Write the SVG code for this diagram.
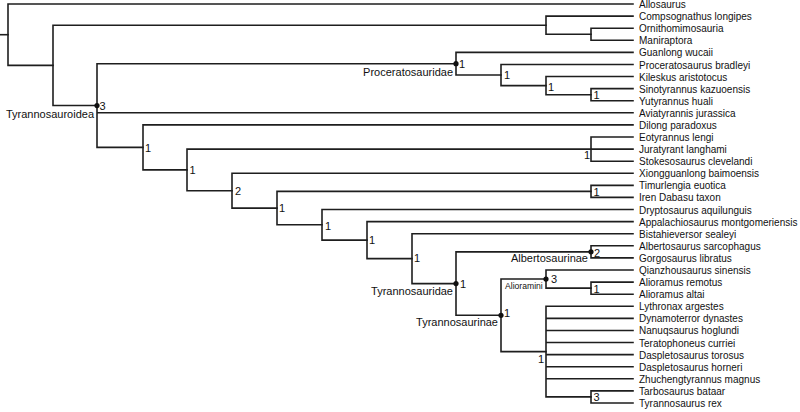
<svg xmlns="http://www.w3.org/2000/svg" width="800" height="412" viewBox="0 0 800 412">
<style>
.e{fill:none;stroke:#1e1e1e;stroke-width:1.6;stroke-linecap:square}
.t{font-family:"Liberation Sans",Arial,sans-serif;font-size:10px;fill:#111}
.c{font-family:"Liberation Sans",Arial,sans-serif;font-size:11px;fill:#111}
.s{font-family:"Liberation Sans",Arial,sans-serif;font-size:11px;fill:#111}
.a{font-family:"Liberation Sans",Arial,sans-serif;font-size:8.6px;fill:#111}
.d{fill:#111}
</style>
<rect width="800" height="412" fill="#fff"/>
<g id="connectors" class="e">
<path d="M0,34.7 H8"/>
<path d="M633,4 H8 V65.4 H53"/>
<path d="M546,25.2 H53 V105.55 H97"/>
<path d="M633,16.1 H546 V34.2 H591"/>
<path d="M633,28.2 H591 V40.3 H633"/>
<path d="M456,63.7 H97 V147.4 H143 M97,112.8 H633"/>
<path d="M633,52.4 H456 V75 H501"/>
<path d="M633,64.5 H501 V85.6 H546"/>
<path d="M633,76.5 H546 V94.7 H591"/>
<path d="M633,88.6 H591 V100.7 H633"/>
<path d="M633,124.9 H143 V169.9 H187"/>
<path d="M591,149.1 H187 V190.7 H232"/>
<path d="M633,137 H591 V161.2 H633 M591,149.1 H633"/>
<path d="M633,173.3 H232 V208.1 H277"/>
<path d="M591,191.4 H277 V224.8 H322"/>
<path d="M633,185.35 H591 V197.4 H633"/>
<path d="M633,209.5 H322 V240.1 H367"/>
<path d="M633,221.6 H367 V258.65 H412"/>
<path d="M633,233.7 H412 V283.6 H456"/>
<path d="M591,251.85 H456 V315.3 H501"/>
<path d="M633,245.8 H591 V257.9 H633"/>
<path d="M546,279.05 H501 V351.6 H546"/>
<path d="M633,270 H546 V288.1 H591"/>
<path d="M633,282.1 H591 V294.2 H633"/>
<path d="M633,306.25 H546 V396.9 H591 M546,318.34 H633 M546,330.43 H633 M546,342.52 H633 M546,354.61 H633 M546,366.7 H633 M546,378.79 H633"/>
<path d="M633,390.9 H591 V403 H633"/>
</g>
<g id="leaves" class="t">
<g id="leaf01"><text x="639" y="8">Allosaurus</text></g>
<g id="leaf02"><text x="639" y="20.1">Compsognathus longipes</text></g>
<g id="leaf03"><text x="639" y="32.2">Ornithomimosauria</text></g>
<g id="leaf04"><text x="639" y="44.3">Maniraptora</text></g>
<g id="leaf05"><text x="639" y="56.4">Guanlong wucaii</text></g>
<g id="leaf06"><text x="639" y="68.5">Proceratosaurus bradleyi</text></g>
<g id="leaf07"><text x="639" y="80.5">Kileskus aristotocus</text></g>
<g id="leaf08"><text x="639" y="92.6">Sinotyrannus kazuoensis</text></g>
<g id="leaf09"><text x="639" y="104.7">Yutyrannus huali</text></g>
<g id="leaf10"><text x="639" y="116.8">Aviatyrannis jurassica</text></g>
<g id="leaf11"><text x="639" y="128.9">Dilong paradoxus</text></g>
<g id="leaf12"><text x="639" y="141">Eotyrannus lengi</text></g>
<g id="leaf13"><text x="639" y="153.1">Juratyrant langhami</text></g>
<g id="leaf14"><text x="639" y="165.2">Stokesosaurus clevelandi</text></g>
<g id="leaf15"><text x="639" y="177.3">Xiongguanlong baimoensis</text></g>
<g id="leaf16"><text x="639" y="189.4">Timurlengia euotica</text></g>
<g id="leaf17"><text x="639" y="201.4">Iren Dabasu taxon</text></g>
<g id="leaf18"><text x="639" y="213.5">Dryptosaurus aquilunguis</text></g>
<g id="leaf19"><text x="639" y="225.6">Appalachiosaurus montgomeriensis</text></g>
<g id="leaf20"><text x="639" y="237.7">Bistahieversor sealeyi</text></g>
<g id="leaf21"><text x="639" y="249.8">Albertosaurus sarcophagus</text></g>
<g id="leaf22"><text x="639" y="261.9">Gorgosaurus libratus</text></g>
<g id="leaf23"><text x="639" y="274">Qianzhousaurus sinensis</text></g>
<g id="leaf24"><text x="639" y="286.1">Alioramus remotus</text></g>
<g id="leaf25"><text x="639" y="298.2">Alioramus altai</text></g>
<g id="leaf26"><text x="639" y="310.3">Lythronax argestes</text></g>
<g id="leaf27"><text x="639" y="322.3">Dynamoterror dynastes</text></g>
<g id="leaf28"><text x="639" y="334.4">Nanuqsaurus hoglundi</text></g>
<g id="leaf29"><text x="639" y="346.5">Teratophoneus curriei</text></g>
<g id="leaf30"><text x="639" y="358.6">Daspletosaurus torosus</text></g>
<g id="leaf31"><text x="639" y="370.7">Daspletosaurus horneri</text></g>
<g id="leaf32"><text x="639" y="382.8">Zhuchengtyrannus magnus</text></g>
<g id="leaf33"><text x="639" y="394.9">Tarbosaurus bataar</text></g>
<g id="leaf34"><text x="639" y="407">Tyrannosaurus rex</text></g>
</g>
<g id="node-tyrannosauroidea"><circle class="d" cx="97" cy="105.55" r="2.6"/><text class="s" x="99.5" y="109.5">3</text><text class="c" x="94" y="118" text-anchor="end">Tyrannosauroidea</text></g>
<g id="node-proceratosauridae"><circle class="d" cx="456" cy="63.7" r="2.6"/><text class="s" x="459" y="67.7">1</text><text class="c" x="453" y="76" text-anchor="end">Proceratosauridae</text></g>
<g id="node-p2"><text class="s" x="504" y="79">1</text></g>
<g id="node-p3"><text class="s" x="548" y="91">1</text></g>
<g id="node-p4"><text class="s" x="593.5" y="99">1</text></g>
<g id="node-u"><text class="s" x="145" y="151.5">1</text></g>
<g id="node-v"><text class="s" x="189.5" y="174">1</text></g>
<g id="node-e"><text class="s" x="584" y="159">1</text></g>
<g id="node-w"><text class="s" x="235" y="195">2</text></g>
<g id="node-x"><text class="s" x="279" y="212">1</text></g>
<g id="node-tl"><text class="s" x="593.5" y="196">1</text></g>
<g id="node-y"><text class="s" x="325" y="230">1</text></g>
<g id="node-z"><text class="s" x="369" y="244">1</text></g>
<g id="node-aa"><text class="s" x="414" y="262">1</text></g>
<g id="node-tyrannosauridae"><circle class="d" cx="456" cy="283.6" r="2.6"/><text class="s" x="460" y="287.5">1</text><text class="c" x="453" y="295" text-anchor="end">Tyrannosauridae</text></g>
<g id="node-albertosaurinae"><circle class="d" cx="591" cy="251.85" r="2.6"/><text class="s" x="594" y="256.5">2</text><text class="c" x="588" y="262" text-anchor="end">Albertosaurinae</text></g>
<g id="node-tyrannosaurinae"><circle class="d" cx="501" cy="315.3" r="2.6"/><text class="s" x="504" y="317">1</text><text class="c" x="498" y="326" text-anchor="end">Tyrannosaurinae</text></g>
<g id="node-alioramini"><circle class="d" cx="546" cy="279.05" r="2.6"/><text class="s" x="551" y="283">3</text><text class="a" x="505" y="289">Alioramini</text></g>
<g id="node-ar"><text class="s" x="593.5" y="293">1</text></g>
<g id="node-pt"><text class="s" x="538" y="363">1</text></g>
<g id="node-tr"><text class="s" x="593.5" y="401">3</text></g>
</svg>
